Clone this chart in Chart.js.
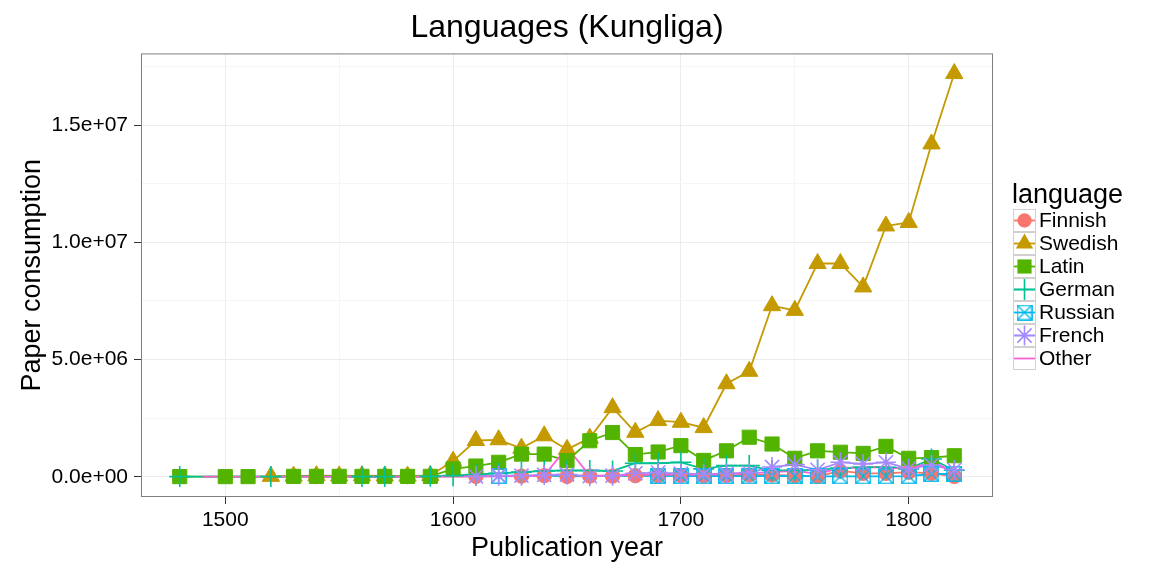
<!DOCTYPE html>
<html>
<head>
<meta charset="utf-8">
<title>Languages (Kungliga)</title>
<script src="https://cdn.jsdelivr.net/npm/chart.js@4.4.1/dist/chart.umd.min.js"></script>
<style>
  html, body { margin: 0; padding: 0; background: #fff; }
  #wrap { width: 1152px; height: 576px; }
</style>
</head>
<body>
<div id="wrap"><canvas id="chart" width="1152" height="576"></canvas></div>
<script>
// publication decades
const years = [1480, 1490, 1500, 1510, 1520, 1530, 1540, 1550, 1560, 1570, 1580, 1590,
               1600, 1610, 1620, 1630, 1640, 1650, 1660, 1670, 1680, 1690, 1700, 1710,
               1720, 1730, 1740, 1750, 1760, 1770, 1780, 1790, 1800, 1810, 1820];

// paper consumption per language (null = no titles that decade)
const finnish = [null, null, null, null, null, null, 1e4, null, null, null, 1e4, null,
                 null, 2e4, null, 3e4, 5e4, 2e4, 3e4, 3e4, 5e4, 5e4, 6e4, 5e4,
                 6e4, 8e4, 8e4, 5e4, 2e4, 2.5e5, 1.5e5, 1.5e5, 2.0e5, 1.5e5, 2e4];
const swedish = [null, null, null, null, 2e4, 3e4, 5e4, 4e4, 5e4, 4e4, 3e4, 6e4,
                 6.7e5, 1.55e6, 1.58e6, 1.22e6, 1.75e6, 1.17e6, 1.65e6, 2.95e6, 1.9e6, 2.4e6, 2.33e6, 2.1e6,
                 3.97e6, 4.5e6, 7.3e6, 7.1e6, 9.1e6, 9.1e6, 8.1e6, 10.7e6, 10.85e6, 14.2e6, 17.2e6];
const latin = [1e4, null, 1e4, 1e4, null, 2e4, 2e4, 2e4, 2e4, 2e4, 2e4, 2e4,
               3.4e5, 4.6e5, 6.2e5, 9.7e5, 9.7e5, 6.9e5, 1.54e6, 1.89e6, 9.5e5, 1.06e6, 1.33e6, 7.0e5,
               1.11e6, 1.69e6, 1.4e6, 7.9e5, 1.11e6, 1.05e6, 1.0e6, 1.3e6, 7.9e5, 8.2e5, 9.0e5];
const german = [1e4, null, null, null, 1e4, null, null, null, 1e4, 1e4, null, 2e4,
                5e4, 1.0e5, 1.5e5, 2.0e5, 2.5e5, 2.7e5, 2.7e5, 2.5e5, 5.8e5, 5.8e5, 6.2e5, 3.4e5,
                4.8e5, 4.8e5, 2.7e5, 2.7e5, 3.0e5, 3.7e5, 4.1e5, 4.1e5, 3.4e5, 7.6e5, 2.8e5];
const russian = [null, null, null, null, null, null, null, null, null, null, null, null,
                 null, null, 4e4, null, null, null, null, null, null, 4e4, 3e4, 3e4,
                 3e4, 3e4, 3e4, 4e4, 2e4, 2e4, 2e4, 2e4, 3e4, 1.2e5, 1.3e5];
const french = [null, null, null, null, null, null, null, null, null, null, null, null,
                null, 2e4, 5e4, 5e4, 8e4, 1.0e5, 3e4, 5e4, 1.5e5, 1.8e5, 1.4e5, 1.1e5,
                1.4e5, 1.8e5, 4.2e5, 5.2e5, 3.0e5, 6.2e5, 5.5e5, 6.2e5, 3.5e5, 5.0e5, 3.0e5];
const other = [null, 1e4, 1e4, 1e4, 1e4, 1e4, 1e4, 1e4, 1e4, 1e4, 1e4, 1e4,
               1e4, 2e4, 2e4, 3e4, 5e4, 1.25e6, 5e4, 5e4, 8e4, 8e4, 1.0e5, 1.0e5,
               1.2e5, 1.5e5, 2.0e5, 2.5e5, 1.3e5, 3.7e5, 4.0e5, 4.0e5, 3.4e5, 6.2e5, 2.3e5];

// axis ticks
const xTicks = [1500, 1600, 1700, 1800];
const xMinorTicks = [1550, 1650, 1750];
const yTicks = [0, 5e6, 1e7, 1.5e7];
const yTickLabels = ['0.0e+00', '5.0e+06', '1.0e+07', '1.5e+07'];
const yMinorTicks = [2.5e6, 7.5e6, 1.25e7, 1.75e7];

const FONT = '"Liberation Sans", Arial, Helvetica, sans-serif';

// ggplot shape 7: square with a cross inside
function squareCross(color, size) {
  const c = document.createElement('canvas');
  c.width = size;
  c.height = size;
  const g = c.getContext('2d');
  g.strokeStyle = color;
  g.lineWidth = 1.4;
  const a = 0.8, b = size - 0.8;
  g.strokeRect(a, a, b - a, b - a);
  g.beginPath();
  g.moveTo(a, a); g.lineTo(b, b);
  g.moveTo(b, a); g.lineTo(a, b);
  g.stroke();
  return c;
}

const series = [
  { label: 'Finnish', data: finnish, color: '#F8766D', style: 'circle',   r: 7.2 },
  { label: 'Swedish', data: swedish, color: '#C49A00', style: 'triangle', r: 10 },
  { label: 'Latin',   data: latin,   color: '#53B400', style: 'rect',     r: 10 },
  { label: 'German',  data: german,  color: '#00C094', style: 'cross',    r: 10.5 },
  { label: 'Russian', data: russian, color: '#00B6EB', style: squareCross('#00B6EB', 16), r: 8 },
  { label: 'French',  data: french,  color: '#A58AFF', style: 'star',     r: 10 },
  { label: 'Other',   data: other,   color: '#FB61D7', style: null,       r: 0 }
];

function toPoints(values) {
  return years.map((x, i) => ({ x: x, y: values[i] })).filter(p => p.y !== null);
}

const datasets = [];
// lines first (drawn underneath all points)
series.forEach((s, i) => {
  datasets.push({
    label: s.label,
    data: toPoints(s.data),
    borderColor: s.color,
    borderWidth: 1.8,
    pointRadius: 0,
    spanGaps: true,
    tension: 0,
    fill: false,
    order: 30 - i
  });
});
// then the markers
series.forEach((s, i) => {
  if (!s.style) return;
  const stroked = s.style === 'cross' || s.style === 'star';
  datasets.push({
    label: s.label + ' points',
    data: toPoints(s.data),
    showLine: false,
    pointStyle: s.style,
    pointRadius: s.r,
    pointBackgroundColor: s.color,
    pointBorderColor: s.color,
    pointBorderWidth: stroked ? 1.6 : 1,
    order: 16 - i
  });
});

function drawMarker(ctx, s, cx, cy) {
  if (!s.style) return;
  ctx.fillStyle = s.color;
  ctx.strokeStyle = s.color;
  ctx.lineWidth = 1.6;
  if (typeof s.style !== 'string') {
    ctx.drawImage(s.style, cx - s.style.width / 2, cy - s.style.height / 2);
    return;
  }
  const r = s.r;
  const d = r * Math.SQRT1_2;
  ctx.beginPath();
  if (s.style === 'circle') {
    ctx.arc(cx, cy, r, 0, Math.PI * 2);
    ctx.fill();
  } else if (s.style === 'triangle') {
    ctx.moveTo(cx, cy - r);
    ctx.lineTo(cx + r * 0.866, cy + r / 2);
    ctx.lineTo(cx - r * 0.866, cy + r / 2);
    ctx.closePath();
    ctx.fill();
  } else if (s.style === 'rect') {
    ctx.rect(cx - d, cy - d, 2 * d, 2 * d);
    ctx.fill();
  } else if (s.style === 'cross') {
    ctx.moveTo(cx, cy - r); ctx.lineTo(cx, cy + r);
    ctx.moveTo(cx - r, cy); ctx.lineTo(cx + r, cy);
    ctx.stroke();
  } else if (s.style === 'star') {
    ctx.moveTo(cx, cy - r); ctx.lineTo(cx, cy + r);
    ctx.moveTo(cx - r, cy); ctx.lineTo(cx + r, cy);
    ctx.moveTo(cx - d, cy - d); ctx.lineTo(cx + d, cy + d);
    ctx.moveTo(cx + d, cy - d); ctx.lineTo(cx - d, cy + d);
    ctx.stroke();
  }
}

// panel border and the ggplot style legend
const ggExtras = {
  id: 'ggExtras',
  afterDraw(chart) {
    const ctx = chart.ctx;
    const area = chart.chartArea;
    ctx.save();
    ctx.strokeStyle = '#7f7f7f';
    ctx.lineWidth = 1;
    ctx.strokeRect(area.left + 0.5, area.top + 0.5, area.right - area.left - 1, area.bottom - area.top - 1);

    ctx.fillStyle = '#000';
    ctx.font = '27px ' + FONT;
    ctx.textAlign = 'left';
    ctx.textBaseline = 'alphabetic';
    ctx.fillText('language', 1012, 203);

    const k = 23;
    series.forEach((s, i) => {
      const x = 1013, y = 209 + k * i;
      ctx.fillStyle = '#fff';
      ctx.fillRect(x, y, k, k);
      ctx.strokeStyle = '#d0d0d0';
      ctx.lineWidth = 1;
      ctx.strokeRect(x + 0.5, y + 0.5, k - 1, k - 1);
      ctx.strokeStyle = s.color;
      ctx.lineWidth = 1.8;
      ctx.beginPath();
      ctx.moveTo(x + 1, y + k / 2);
      ctx.lineTo(x + k - 1, y + k / 2);
      ctx.stroke();
      drawMarker(ctx, s, x + k / 2, y + k / 2);
      ctx.fillStyle = '#000';
      ctx.font = '21px ' + FONT;
      ctx.textBaseline = 'middle';
      ctx.fillText(s.label, 1039, y + k / 2 + 1);
    });
    ctx.restore();
  }
};

const isMajorX = v => xTicks.includes(v);
const isMajorY = v => yTicks.includes(v);

new Chart(document.getElementById('chart').getContext('2d'), {
  type: 'line',
  data: { datasets: datasets },
  plugins: [ggExtras],
  options: {
    responsive: false,
    animation: false,
    devicePixelRatio: 1,
    events: [],
    layout: { padding: { left: 0, right: 159, top: 0, bottom: 0 } },
    plugins: {
      legend: { display: false },
      tooltip: { enabled: false },
      title: {
        display: true,
        text: 'Languages (Kungliga)',
        color: '#000',
        fullSize: false,
        font: { family: FONT, size: 32, weight: 'normal' },
        padding: { top: 9, bottom: 6 }
      }
    },
    scales: {
      x: {
        type: 'linear',
        min: 1463,
        max: 1837,
        afterFit: scale => { scale.height = 79; },
        afterBuildTicks: scale => {
          scale.ticks = xTicks.concat(xMinorTicks).sort((a, b) => a - b).map(v => ({ value: v }));
        },
        border: { display: false },
        grid: {
          color: c => isMajorX(c.tick.value) ? '#ebebeb' : '#f5f5f5',
          tickColor: c => isMajorX(c.tick.value) ? '#333333' : 'rgba(0,0,0,0)',
          tickLength: 7,
          lineWidth: 1
        },
        ticks: {
          color: '#000',
          font: { family: FONT, size: 21 },
          padding: 4,
          maxRotation: 0,
          autoSkip: false,
          callback: v => isMajorX(v) ? String(v) : ''
        },
        title: {
          display: true,
          text: 'Publication year',
          color: '#000',
          font: { family: FONT, size: 27 },
          padding: { top: 0, bottom: 11.5 }
        }
      },
      y: {
        type: 'linear',
        min: -0.86e6,
        max: 1.806e7,
        afterFit: scale => { scale.width = 141; },
        afterBuildTicks: scale => {
          scale.ticks = yTicks.concat(yMinorTicks).sort((a, b) => a - b).map(v => ({ value: v }));
        },
        border: { display: false },
        grid: {
          color: c => isMajorY(c.tick.value) ? '#ebebeb' : '#f5f5f5',
          tickColor: c => isMajorY(c.tick.value) ? '#333333' : 'rgba(0,0,0,0)',
          tickLength: 7,
          lineWidth: 1
        },
        ticks: {
          color: '#000',
          font: { family: FONT, size: 21 },
          padding: 6,
          autoSkip: false,
          callback: v => isMajorY(v) ? yTickLabels[yTicks.indexOf(v)] : ''
        },
        title: {
          display: true,
          text: 'Paper consumption',
          color: '#000',
          font: { family: FONT, size: 27 },
          padding: { top: 16, bottom: 0 }
        }
      }
    }
  }
});
</script>
</body>
</html>
